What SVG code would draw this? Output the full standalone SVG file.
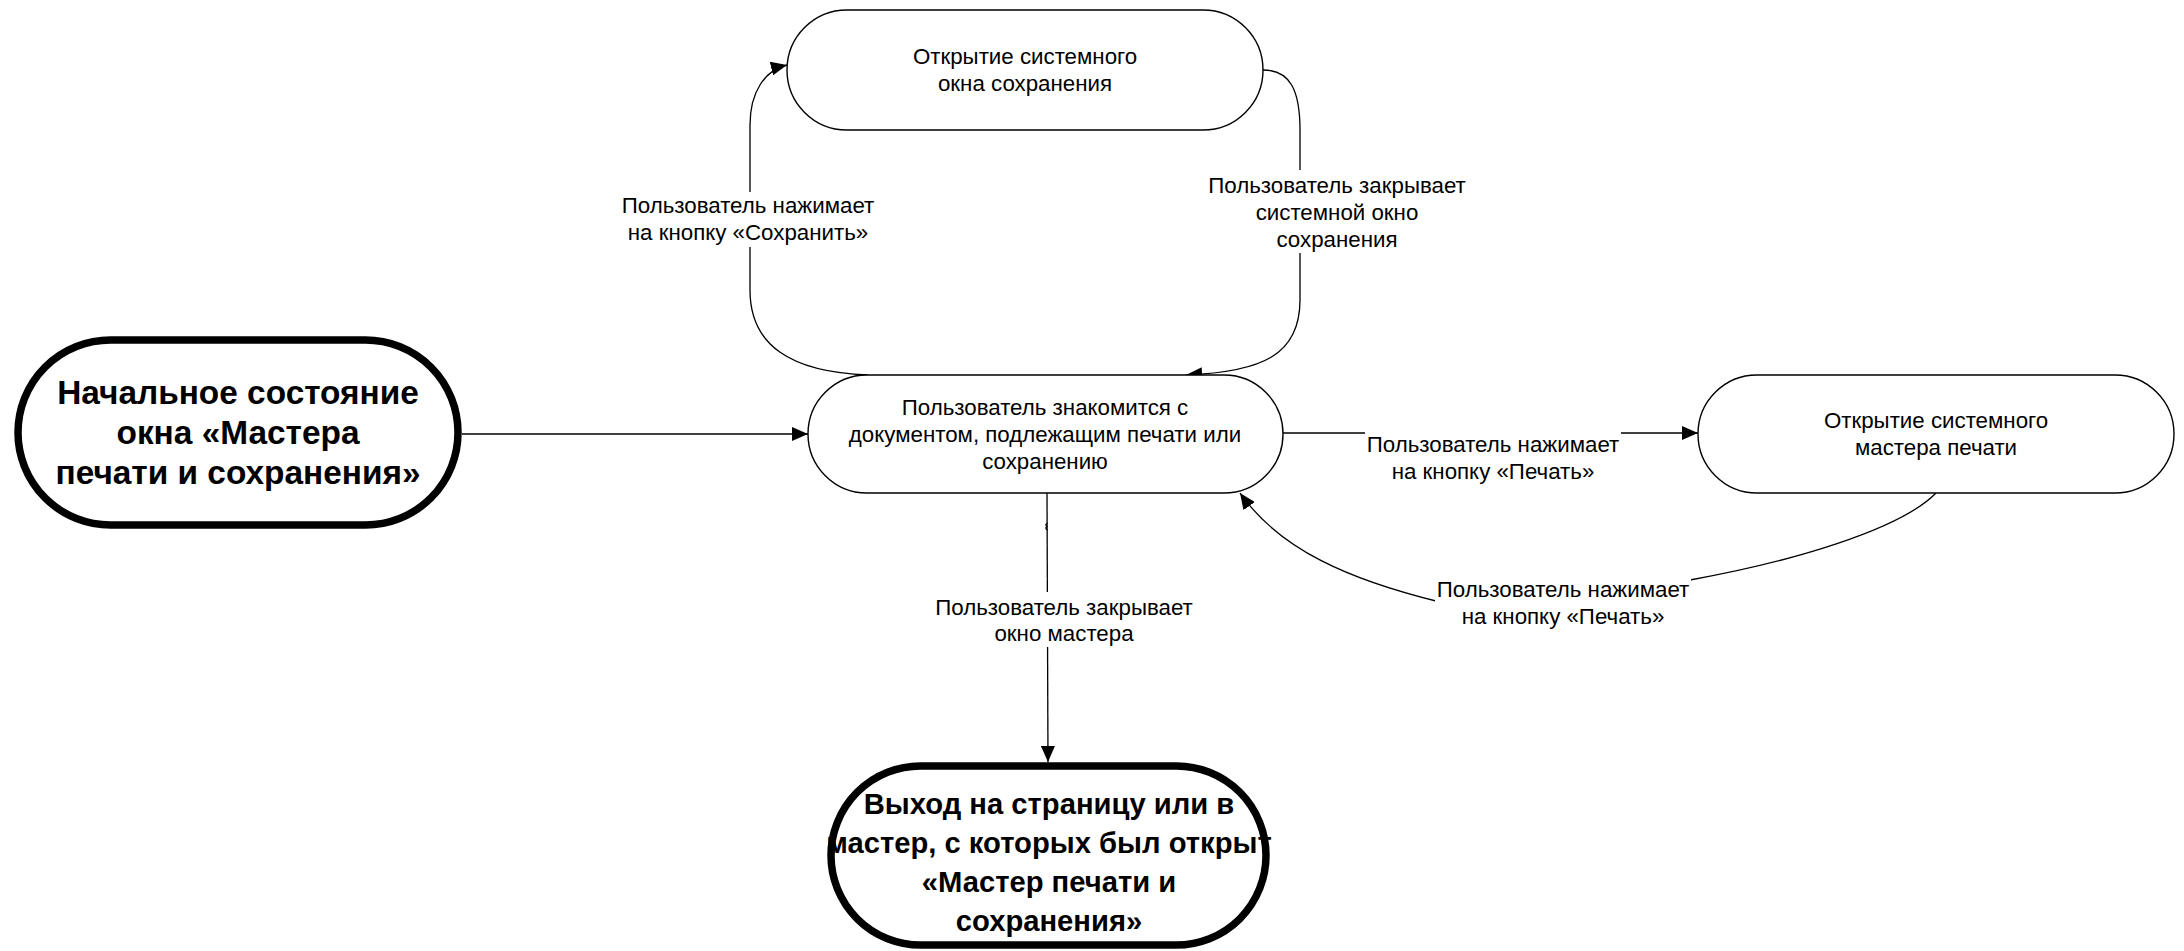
<svg xmlns="http://www.w3.org/2000/svg" width="2184" height="951" viewBox="0 0 2184 951">
<style>
.node{fill:#fff;stroke:#000;stroke-width:1.4}
.term{fill:#fff;stroke:#000;stroke-width:7.5}
.t{font-family:"Liberation Sans",Arial,sans-serif;font-size:22.3px;fill:#000;text-anchor:middle}
.b{font-family:"Liberation Sans",Arial,sans-serif;font-size:33.4px;font-weight:bold;fill:#000;text-anchor:middle}
.b2{font-family:"Liberation Sans",Arial,sans-serif;font-size:29.2px;font-weight:bold;fill:#000;text-anchor:middle}
.c{fill:none;stroke:#000;stroke-width:1.3}
.bg{fill:#fff;stroke:none}
</style>
<defs>
<marker id="arr" markerWidth="16" markerHeight="14" refX="16" refY="7" orient="auto" markerUnits="userSpaceOnUse">
<path d="M0,0 L16,7 L0,14 z" fill="#000"/>
</marker>
</defs>
<rect width="2184" height="951" fill="#fff"/>
<g id="connectors">
<path class="c" d="M462 434 L808 434" marker-end="url(#arr)"/>
<path class="c" d="M868 375 C790 372 750 345 750 290 L750 125 C750 92 765 70 787 65" marker-end="url(#arr)"/>
<path class="c" d="M1263 70 C1290 70 1300 90 1300 130 L1300 300 C1300 355 1262 372 1186 375" marker-end="url(#arr)"/>
<path class="c" d="M1283 433 L1698 433" marker-end="url(#arr)"/>
<path class="c" d="M1936 493 C1900 530 1790 562 1690 580 L1440 602 C1350 580 1280 550 1240 493" marker-end="url(#arr)"/>
<path class="c" d="M1047 493 L1048 762" marker-end="url(#arr)"/>
<path class="c" d="M1047.5 523 q-3 1.5 -0.5 3.5 q-2.5 1.5 0.5 3.5" stroke-width="1"/>
<g id="label-save">
<rect class="bg" x="620" y="192" width="256" height="55"/>
<text class="t" x="748" y="213">Пользователь нажимает</text>
<text class="t" x="748" y="240">на кнопку «Сохранить»</text>
</g>
<g id="label-close-save">
<rect class="bg" x="1203" y="170" width="268" height="83"/>
<text class="t" x="1337" y="193">Пользователь закрывает</text>
<text class="t" x="1337" y="220">системной окно</text>
<text class="t" x="1337" y="247">сохранения</text>
</g>
<g id="label-print1">
<rect class="bg" x="1365" y="426" width="256" height="55"/>
<text class="t" x="1493" y="452">Пользователь нажимает</text>
<text class="t" x="1493" y="479">на кнопку «Печать»</text>
</g>
<g id="label-print2">
<rect class="bg" x="1435" y="576" width="256" height="55"/>
<text class="t" x="1563" y="597">Пользователь нажимает</text>
<text class="t" x="1563" y="624">на кнопку «Печать»</text>
</g>
<g id="label-exit">
<rect class="bg" x="930" y="592" width="268" height="55"/>
<text class="t" x="1064" y="615">Пользователь закрывает</text>
<text class="t" x="1064" y="641">окно мастера</text>
</g>
</g>
<g id="start">
<rect class="term" x="18" y="340" width="440" height="185" rx="92.5" ry="92.5"/>
<text class="b" x="238" y="404">Начальное состояние</text>
<text class="b" x="238" y="444">окна «Мастера</text>
<text class="b" x="238" y="484">печати и сохранения»</text>
</g>
<g id="save-window">
<rect class="node" x="787" y="10" width="476" height="120" rx="60" ry="60"/>
<text class="t" x="1025" y="64">Открытие системного</text>
<text class="t" x="1025" y="91">окна сохранения</text>
</g>
<g id="review">
<rect class="node" x="808" y="375" width="475" height="118" rx="59" ry="59"/>
<text class="t" x="1045" y="415">Пользователь знакомится с</text>
<text class="t" x="1045" y="442">документом, подлежащим печати или</text>
<text class="t" x="1045" y="469">сохранению</text>
</g>
<g id="print-master">
<rect class="node" x="1698" y="375" width="476" height="118" rx="59" ry="59"/>
<text class="t" x="1936" y="428">Открытие системного</text>
<text class="t" x="1936" y="455">мастера печати</text>
</g>
<g id="exit">
<rect class="term" x="831" y="766" width="435" height="179" rx="89.5" ry="89.5"/>
<text class="b2" x="1049" y="814">Выход на страницу или в</text>
<text class="b2" x="1049" y="853">мастер, с которых был открыт</text>
<text class="b2" x="1049" y="892">«Мастер печати и</text>
<text class="b2" x="1049" y="931">сохранения»</text>
</g>
</svg>
